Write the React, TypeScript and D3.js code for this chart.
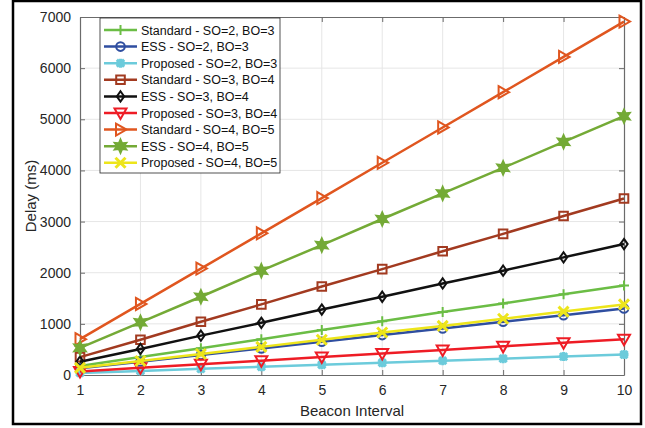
import * as d3 from "d3";
import { useEffect, useRef } from "react";

const beacon = [1, 2, 3, 4, 5, 6, 7, 8, 9, 10];
const yTicks = [0, 1000, 2000, 3000, 4000, 5000, 6000, 7000];

const standard2 = [175, 350, 525, 700, 880, 1050, 1230, 1400, 1580, 1750];
const ess2 = [130, 260, 390, 520, 650, 780, 910, 1040, 1170, 1300];
const proposed2 = [40, 80, 120, 160, 200, 240, 280, 320, 360, 400];
const standard3 = [350, 690, 1040, 1380, 1730, 2070, 2420, 2760, 3110, 3450];
const ess3 = [260, 510, 770, 1020, 1280, 1530, 1790, 2040, 2300, 2560];
const proposed3 = [70, 140, 210, 280, 350, 420, 490, 560, 630, 700];
const standard4 = [700, 1390, 2080, 2770, 3460, 4150, 4840, 5530, 6220, 6910];
const ess4 = [530, 1030, 1530, 2040, 2540, 3050, 3550, 4050, 4560, 5060];
const proposed4 = [140, 275, 410, 550, 690, 830, 960, 1100, 1240, 1380];

const seriesNames = [
  "Standard - SO=2, BO=3",
  "ESS - SO=2, BO=3",
  "Proposed - SO=2, BO=3",
  "Standard - SO=3, BO=4",
  "ESS - SO=3, BO=4",
  "Proposed - SO=3, BO=4",
  "Standard - SO=4, BO=5",
  "ESS - SO=4, BO=5",
  "Proposed - SO=4, BO=5",
];
const seriesColors = ["#6bbd45", "#2f4ea0", "#6ccbdb", "#a23a20", "#111111", "#ee1c25", "#e0561f", "#74aa36", "#ede51b"];
const seriesMarkers = ["plus", "circle", "asterisk", "square", "diamond", "triDown", "triRight", "hexagram", "cross"];
const seriesValues = [standard2, ess2, proposed2, standard3, ess3, proposed3, standard4, ess4, proposed4];

// marker path centred at 0,0
function markerPath(kind: string, r: number): string {
  switch (kind) {
    case "plus":
      return `M${-r},0L${r},0M0,${-r}L0,${r}`;
    case "cross":
      return `M${-r},${-r}L${r},${r}M${-r},${r}L${r},${-r}`;
    case "asterisk": {
      const a = r * 0.8;
      return `M${-r},0L${r},0M0,${-r}L0,${r}M${-a},${-a}L${a},${a}M${-a},${a}L${a},${-a}`;
    }
    case "circle":
      return d3.arc()({ innerRadius: 0, outerRadius: r, startAngle: 0, endAngle: 2 * Math.PI }) as string;
    case "square":
      return `M${-r},${-r}L${r},${-r}L${r},${r}L${-r},${r}Z`;
    case "diamond":
      return `M0,${-r * 1.2}L${r * 0.85},0L0,${r * 1.2}L${-r * 0.85},0Z`;
    case "triDown":
      return `M${-r},${-r * 0.75}L${r},${-r * 0.75}L0,${r}Z`;
    case "triRight":
      return `M${-r * 0.75},${-r}L${r},0L${-r * 0.75},${r}Z`;
    case "hexagram": {
      const pts: string[] = [];
      for (let i = 0; i < 12; i++) {
        const ang = (Math.PI / 6) * i - Math.PI / 2;
        const rr = i % 2 === 0 ? r * 1.1 : r * 0.55;
        pts.push(`${rr * Math.cos(ang)},${rr * Math.sin(ang)}`);
      }
      return "M" + pts.join("L") + "Z";
    }
  }
  return "";
}

function markerSize(kind: string): number {
  if (kind === "triDown" || kind === "triRight") return 6;
  if (kind === "hexagram") return 6;
  if (kind === "asterisk") return 4.5;
  if (kind === "plus" || kind === "cross") return 5;
  return 4.3;
}

function markerFill(kind: string, color: string): string {
  if (kind === "hexagram") return color;
  return "none";
}

function App() {
  const ref = useRef<SVGSVGElement | null>(null);

  useEffect(() => {
    const svg = d3.select(ref.current);
    svg.selectAll("*").remove();

    const left = 80;
    const right = 624;
    const top = 17;
    const bottom = 375;
    const font = "'Liberation Sans', Arial, Helvetica, sans-serif";

    const x = d3.scaleLinear().domain([1, 10]).range([left, right]);
    const y = d3.scaleLinear().domain([0, 7000]).range([bottom, top]);

    // outer frame
    svg.append("rect").attr("x", 13).attr("y", 1).attr("width", 628).attr("height", 423)
      .attr("fill", "white").attr("stroke", "#000").attr("stroke-width", 2.5);

    // grid
    const grid = svg.append("g");
    grid.selectAll("line.gx").data(beacon.slice(1, -1)).join("line")
      .attr("x1", (d) => x(d)).attr("x2", (d) => x(d)).attr("y1", top).attr("y2", bottom)
      .attr("stroke", "#e6e6e6").attr("stroke-width", 1);
    grid.selectAll("line.gy").data(yTicks.slice(1, -1)).join("line")
      .attr("x1", left).attr("x2", right).attr("y1", (d) => y(d)).attr("y2", (d) => y(d))
      .attr("stroke", "#e6e6e6").attr("stroke-width", 1);

    // axes
    const axisColor = "#6b6b6b";
    const xAxis = d3.axisBottom(x).tickValues(beacon).tickSizeInner(-5).tickSizeOuter(0).tickPadding(10).tickFormat(d3.format("d"));
    const gx = svg.append("g").attr("transform", `translate(0,${bottom})`).call(xAxis);
    const yAxis = d3.axisLeft(y).tickValues(yTicks).tickSizeInner(-5).tickSizeOuter(0).tickPadding(9).tickFormat(d3.format("d"));
    const gy = svg.append("g").attr("transform", `translate(${left},0)`).call(yAxis);
    const xTop = d3.axisTop(x).tickValues(beacon).tickSizeInner(-5).tickSizeOuter(0).tickFormat(() => "");
    const gxt = svg.append("g").attr("transform", `translate(0,${top})`).call(xTop);
    const yRight = d3.axisRight(y).tickValues(yTicks).tickSizeInner(-5).tickSizeOuter(0).tickFormat(() => "");
    const gyr = svg.append("g").attr("transform", `translate(${right},0)`).call(yRight);
    [gx, gy, gxt, gyr].forEach((g) => {
      g.select(".domain").attr("stroke", axisColor).attr("stroke-width", 1.2);
      g.selectAll(".tick line").attr("stroke", axisColor);
      g.selectAll("text").attr("fill", "#262626").style("font-family", font).style("font-size", "14px");
    });

    // series
    const line = d3.line<number>().x((_, i) => x(beacon[i])).y((d) => y(d));
    seriesValues.forEach((vals, si) => {
      const color = seriesColors[si];
      const kind = seriesMarkers[si];
      const g = svg.append("g");
      g.append("path").datum(vals).attr("d", line).attr("fill", "none")
        .attr("stroke", color).attr("stroke-width", 2.5);
      g.selectAll("path.m").data(vals).join("path").attr("class", "m")
        .attr("transform", (d, i) => `translate(${x(beacon[i])},${y(d)})`)
        .attr("d", markerPath(kind, markerSize(kind)))
        .attr("fill", markerFill(kind, color))
        .attr("stroke", color).attr("stroke-width", kind === "asterisk" || kind === "cross" ? 3 : 2)
        .attr("stroke-linejoin", "miter");
    });

    // axis titles
    svg.append("text").attr("x", (left + right) / 2).attr("y", 416).attr("text-anchor", "middle")
      .style("font-family", font).style("font-size", "15px").attr("fill", "#262626").text("Beacon Interval");
    svg.append("text").attr("transform", `translate(36,${(top + bottom) / 2}) rotate(-90)`).attr("text-anchor", "middle")
      .style("font-family", font).style("font-size", "15px").attr("fill", "#262626").text("Delay (ms)");

    // legend
    const lg = svg.append("g").attr("transform", "translate(100,18)");
    lg.append("rect").attr("width", 180).attr("height", 155).attr("fill", "white").attr("stroke", "#262626").attr("stroke-width", 0.8);
    seriesNames.forEach((name, i) => {
      const yy = 12 + i * 16.6;
      const color = seriesColors[i];
      const kind = seriesMarkers[i];
      lg.append("line").attr("x1", 4).attr("x2", 37).attr("y1", yy).attr("y2", yy).attr("stroke", color).attr("stroke-width", 2.5);
      lg.append("path").attr("transform", `translate(20.5,${yy})`).attr("d", markerPath(kind, markerSize(kind)))
        .attr("fill", markerFill(kind, color)).attr("stroke", color)
        .attr("stroke-width", kind === "asterisk" || kind === "cross" ? 3 : 2);
      lg.append("text").attr("x", 41).attr("y", yy + 4.5).style("font-family", font).style("font-size", "12.5px")
        .attr("fill", "#111").text(name);
    });
  }, []);

  return (
    <div style={{ position: "absolute", left: 0, top: 0 }}>
      <svg ref={ref} width={645} height={428} style={{ display: "block", background: "white" }} />
    </div>
  );
}

export default App;
